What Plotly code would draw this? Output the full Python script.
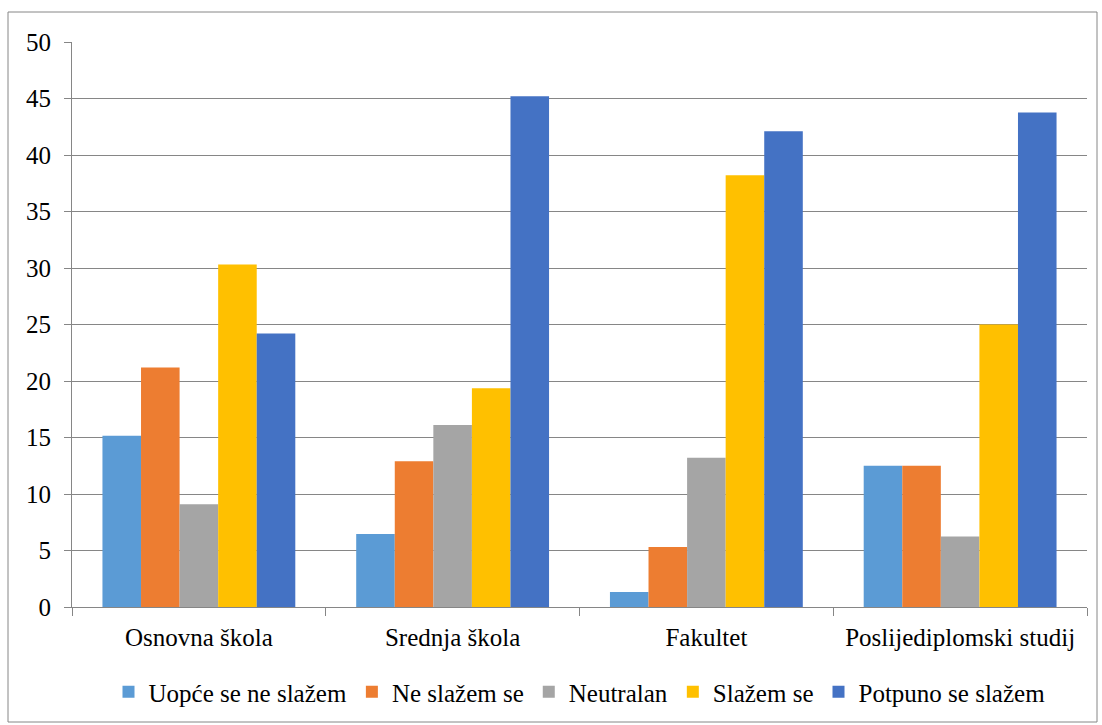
import plotly.graph_objects as go

categories = ["Osnovna škola", "Srednja škola", "Fakultet", "Poslijediplomski studij"]
series_names = ["Uopće se ne slažem", "Ne slažem se", "Neutralan", "Slažem se", "Potpuno se slažem"]
uopce = [15.15, 6.45, 1.33, 12.5]
ne_slazem = [21.2, 12.9, 5.3, 12.5]
neutralan = [9.1, 16.1, 13.2, 6.25]
slazem = [30.3, 19.35, 38.2, 25.0]
potpuno = [24.2, 45.2, 42.1, 43.75]
colors = ["#5B9BD5", "#ED7D31", "#A5A5A5", "#FFC000", "#4472C4"]

FONT = "Liberation Serif"
FS = 25

fig = go.Figure()
for name, vals, c in zip(series_names, [uopce, ne_slazem, neutralan, slazem, potpuno], colors):
    fig.add_trace(go.Bar(name=name, x=categories, y=vals, marker=dict(color=c, line=dict(width=0))))

L, R, T, B = 72, 15, 42, 118
W, H = 1102, 725
pw, ph = W - L - R, H - T - B

fig.update_layout(
    width=W, height=H, autosize=False,
    margin=dict(l=L, r=R, t=T, b=B, autoexpand=False),
    barmode="group", bargap=0.24, bargroupgap=0,
    paper_bgcolor="white", plot_bgcolor="white",
    font=dict(family=FONT, size=FS, color="black"),
    legend=dict(orientation="h", x=0.5, xanchor="center", yref="container", y=(H - 669) / H, yanchor="top",
                font=dict(family=FONT, size=FS, color="black"), itemwidth=30, traceorder="normal"),
    xaxis=dict(showline=True, linecolor="#868686", linewidth=1, ticks="outside", tickson="boundaries",
               ticklen=8, tickcolor="#868686", showgrid=False, ticklabelstandoff=8, automargin=False,
               tickfont=dict(family=FONT, size=FS, color="black")),
    yaxis=dict(range=[0, 50], dtick=5, showgrid=True, gridcolor="#868686", gridwidth=1,
               showline=True, linecolor="#868686", ticks="outside", ticklen=7, tickcolor="#868686",
               ticklabelstandoff=8, automargin=False,
               tickfont=dict(family=FONT, size=FS, color="black"), zeroline=False),
)

fig.add_shape(type="rect", xref="paper", yref="paper",
              x0=(8 - L) / pw, x1=(1097 - L) / pw,
              y0=(H - B - 722) / ph, y1=(H - B - 12) / ph,
              line=dict(color="#868686", width=1), fillcolor="rgba(0,0,0,0)", layer="below")

fig.write_html("out.html", config={"displayModeBar": False},
               post_script="document.body.style.margin='0';document.body.style.padding='0';")
